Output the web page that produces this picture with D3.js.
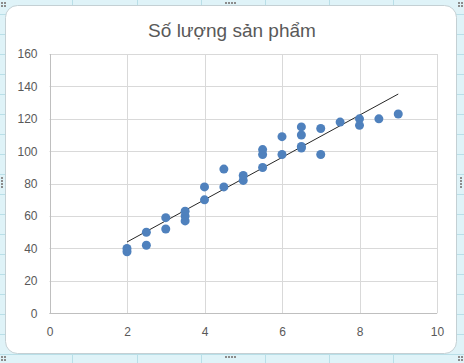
<!DOCTYPE html>
<html>
<head>
<meta charset="utf-8">
<script src="https://cdn.jsdelivr.net/npm/d3@7"></script>
<style>
html,body{margin:0;padding:0;background:#fff;}
svg{display:block;}
</style>
</head>
<body>
<svg id="c" width="464" height="363"></svg>
<script>
const title = "Số lượng sản phẩm";
const xValues = [2,2,2.5,2.5,3,3,3.5,3.5,3.5,4,4,4.5,4.5,5,5,5.5,5.5,5.5,6,6,6.5,6.5,6.5,6.5,7,7,7.5,8,8,8.5,9];
const yValues = [38,40,42,50,52,59,57,60,63,70,78,78,89,82,85,90,98,101,98,109,102,103,110,115,98,114,118,116,120,120,123];
const trendX = [2, 9];
const trendY = [44, 135.3];
const xTicks = [0,2,4,6,8,10];
const yTicks = [0,20,40,60,80,100,120,140,160];

const svg = d3.select("#c");
const W = 464, H = 363;

// spreadsheet background
svg.append("rect").attr("width",W).attr("height",H).attr("fill","#dff3f8");
const bg = svg.append("g").attr("stroke","#b9dfe8").attr("stroke-width",1);
[72,137,201,265,329,393].forEach(v=>bg.append("line").attr("x1",v+0.5).attr("x2",v+0.5).attr("y1",0).attr("y2",H));
for(let v=14;v<H;v+=20) bg.append("line").attr("x1",0).attr("x2",W).attr("y1",v+0.5).attr("y2",v+0.5);

// chart area
svg.append("rect").attr("x",5.5).attr("y",5.5).attr("width",451).attr("height",348)
  .attr("rx",12).attr("ry",12).attr("fill","#fff").attr("stroke","#c4d0d4").attr("stroke-width",1);

// handles
const hg = svg.append("g").attr("fill","#8c8c8c");
function grip(cx,cy,n,horiz){
  for(let i=0;i<n;i++){
    hg.append("rect").attr("x",horiz?cx+i*3:cx).attr("y",horiz?cy:cy+i*3).attr("width",2).attr("height",2);
  }
}
grip(225,2,4,true); grip(225,356,4,true);
grip(1,177,4,false); grip(460,177,4,false);
[[1,2],[458,2],[1,356],[458,356]].forEach(([a,b])=>{grip(a,b,2,true);grip(a,b+3,2,true);});

const pL=49.5, pR=437, pT=54, pB=313.3;
const x = d3.scaleLinear().domain([0,10]).range([pL,pR]);
const y = d3.scaleLinear().domain([0,160]).range([pB,pT]);

// gridlines
const grid = svg.append("g").attr("stroke","#d9d9d9").attr("stroke-width",1);
yTicks.forEach(t=>grid.append("line").attr("x1",pL).attr("x2",pR).attr("y1",Math.round(y(t))+0.5).attr("y2",Math.round(y(t))+0.5));
xTicks.forEach(t=>grid.append("line").attr("x1",Math.round(x(t))+0.5).attr("x2",Math.round(x(t))+0.5).attr("y1",pT).attr("y2",pB));
// axes lines
svg.append("line").attr("x1",Math.round(pL)+0.5).attr("x2",Math.round(pL)+0.5).attr("y1",pT).attr("y2",Math.round(pB)+0.5).attr("stroke","#bfbfbf");
svg.append("line").attr("x1",pL).attr("x2",pR).attr("y1",Math.round(pB)+0.5).attr("y2",Math.round(pB)+0.5).attr("stroke","#bfbfbf");

// axis labels via d3 axes
const font = "'Liberation Sans', Arial, sans-serif";
const yAxis = svg.append("g").attr("transform",`translate(${pL},0)`)
  .call(d3.axisLeft(y).tickValues(yTicks).tickSize(0).tickPadding(12));
const xAxis = svg.append("g").attr("transform",`translate(0,${pB})`)
  .call(d3.axisBottom(x).tickValues(xTicks).tickSize(0).tickPadding(14));
[yAxis,xAxis].forEach(a=>{
  a.select(".domain").remove();
  a.selectAll("text").attr("fill","#595959").style("font-family",font).style("font-size","12px");
});

// trendline
svg.append("line").attr("x1",x(trendX[0])).attr("y1",y(trendY[0])).attr("x2",x(trendX[1])).attr("y2",y(trendY[1]))
  .attr("stroke","#262626").attr("stroke-width",1);

// points
svg.append("g").selectAll("circle").data(xValues.map((v,i)=>[v,yValues[i]])).join("circle")
  .attr("cx",d=>x(d[0])).attr("cy",d=>y(d[1])).attr("r",4.5).attr("fill","#4f81bd");

// title
svg.append("text").attr("x",232).attr("y",37).attr("text-anchor","middle")
  .attr("fill","#595959").style("font-family",font).style("font-size","19px").text(title);
</script>
</body>
</html>
